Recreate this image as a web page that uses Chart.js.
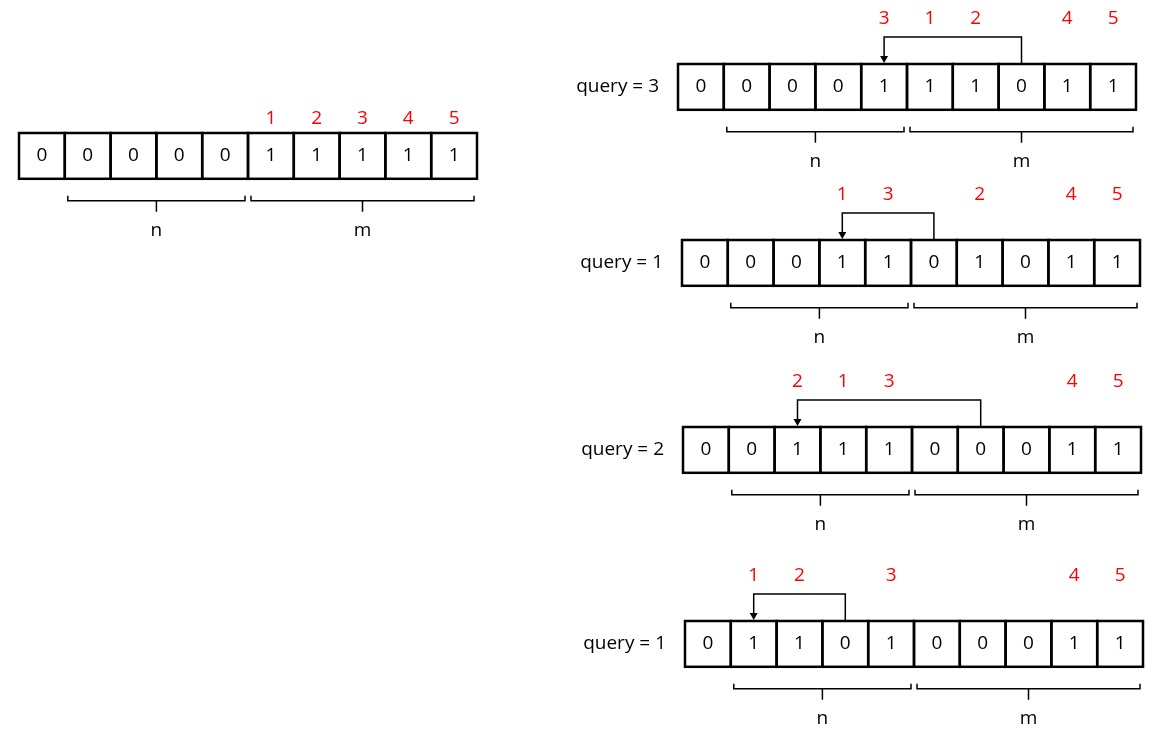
<!DOCTYPE html>
<html>
<head>
<meta charset="utf-8">
<script src="https://cdn.jsdelivr.net/npm/chart.js@4"></script>
<style>
  html, body { margin: 0; padding: 0; background: #fff; }
  #wrap { width: 1152px; height: 745px; }
</style>
</head>
<body>
<div id="wrap"><canvas id="diagram"></canvas></div>
<script>
// Dados do diagrama
const initialBits = [0, 0, 0, 0, 0, 1, 1, 1, 1, 1];
const initialTags = [null, null, null, null, null, '1', '2', '3', '4', '5'];

const queries = [3, 1, 2, 1];
const rowBits = [
    [0, 0, 0, 0, 1, 1, 1, 0, 1, 1],
    [0, 0, 0, 1, 1, 0, 1, 0, 1, 1],
    [0, 0, 1, 1, 1, 0, 0, 0, 1, 1],
    [0, 1, 1, 0, 1, 0, 0, 0, 1, 1]
];
const rowTags = [
    [null, null, null, null, '3', '1', '2', null, '4', '5'],
    [null, null, null, '1', '3', null, '2', null, '4', '5'],
    [null, null, '2', '1', '3', null, null, null, '4', '5'],
    [null, '1', '2', null, '3', null, null, null, '4', '5']
];
// seta: [de, para]
const arrows = [[7, 4], [5, 3], [6, 2], [3, 1]];
const nCells = 5; // largura do grupo n (inclui a célula 0)

// Layout (em unidades de pixel das escalas)
const CELL = 45.8;
const initialPos = { x: 19, y: 133 };
const rowPos = [
    { x: 678, y: 64 },
    { x: 682, y: 240 },
    { x: 683, y: 427 },
    { x: 685, y: 621 }
];

function drawRow(ctx, sx, sy, x0, y0, bits, tags, tagOffset) {
    const px = v => sx.getPixelForValue(v);
    const py = v => sy.getPixelForValue(v);
    ctx.strokeStyle = '#000';
    ctx.lineWidth = 2.5;
    bits.forEach((b, i) => {
        const l = px(x0 + i * CELL), r = px(x0 + (i + 1) * CELL);
        const t = py(y0), bt = py(y0 + CELL);
        ctx.strokeRect(l, t, r - l, bt - t);
        ctx.fillStyle = '#000';
        ctx.font = '19px "Open Sans", sans-serif';
        ctx.textAlign = 'center';
        ctx.textBaseline = 'middle';
        ctx.fillText(String(b), (l + r) / 2, (t + bt) / 2);
        if (tags[i]) {
            ctx.fillStyle = '#ff0000';
            ctx.fillText(tags[i], (l + r) / 2, py(y0 - tagOffset));
        }
    });
    // chaves n e m
    ctx.lineWidth = 1.5;
    const brY = py(y0 + CELL + 17);
    const brace = (a, b, label) => {
        const l = px(x0 + a * CELL + 3), r = px(x0 + b * CELL - 3);
        const yb = brY, ya = brY + 5;
        ctx.beginPath();
        ctx.moveTo(l, yb); ctx.lineTo(l, ya); ctx.lineTo(r, ya); ctx.lineTo(r, yb);
        const mid = (l + r) / 2;
        ctx.moveTo(mid, ya); ctx.lineTo(mid, ya + 11);
        ctx.stroke();
        ctx.fillStyle = '#000';
        ctx.fillText(label, mid, ya + 30);
    };
    ctx.font = '19px "Open Sans", sans-serif';
    brace(1, nCells, 'n');
    brace(nCells, bits.length, 'm');
}

const diagramPlugin = {
    id: 'diagram',
    afterDraw(chart) {
        const ctx = chart.ctx;
        const sx = chart.scales.x, sy = chart.scales.y;
        ctx.save();
        drawRow(ctx, sx, sy, initialPos.x, initialPos.y, initialBits, initialTags, 14);
        queries.forEach((q, k) => {
            const p = rowPos[k];
            drawRow(ctx, sx, sy, p.x, p.y, rowBits[k], rowTags[k], 45);
            ctx.fillStyle = '#000';
            ctx.font = '19px "Open Sans", sans-serif';
            ctx.textAlign = 'right';
            ctx.textBaseline = 'middle';
            ctx.fillText('query = ' + q, sx.getPixelForValue(p.x - 19), sy.getPixelForValue(p.y + CELL / 2));
            // seta
            const [from, to] = arrows[k];
            const xf = sx.getPixelForValue(p.x + (from + 0.5) * CELL);
            const xt = sx.getPixelForValue(p.x + (to + 0.5) * CELL);
            const yTop = sy.getPixelForValue(p.y - 27);
            const yBot = sy.getPixelForValue(p.y);
            ctx.strokeStyle = '#000';
            ctx.lineWidth = 1.5;
            ctx.beginPath();
            ctx.moveTo(xf, yBot); ctx.lineTo(xf, yTop); ctx.lineTo(xt, yTop); ctx.lineTo(xt, yBot - 7);
            ctx.stroke();
            ctx.fillStyle = '#000';
            ctx.beginPath();
            ctx.moveTo(xt - 4, yBot - 8); ctx.lineTo(xt + 4, yBot - 8); ctx.lineTo(xt, yBot - 1);
            ctx.closePath();
            ctx.fill();
        });
        ctx.restore();
    }
};

new Chart(document.getElementById('diagram'), {
    type: 'scatter',
    data: { datasets: [{ data: [], pointRadius: 0 }] },
    options: {
        responsive: true,
        maintainAspectRatio: false,
        animation: false,
        layout: { padding: 0 },
        plugins: { legend: { display: false }, tooltip: { enabled: false } },
        scales: {
            x: { type: 'linear', min: 0, max: 1152, display: false },
            y: { type: 'linear', min: 0, max: 745, reverse: true, display: false }
        }
    },
    plugins: [diagramPlugin]
});
</script>
</body>
</html>
